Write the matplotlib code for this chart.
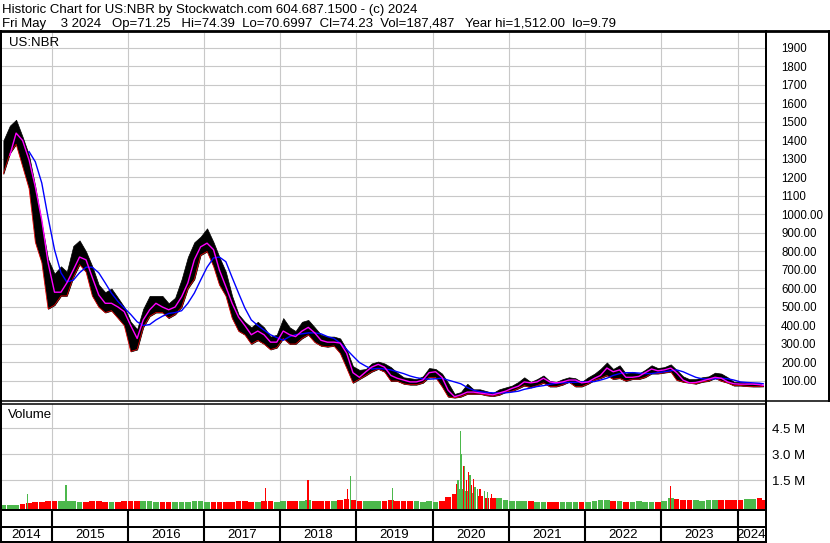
import numpy as np
import pandas as pd
import matplotlib
matplotlib.use("Agg")
import matplotlib.pyplot as plt
from matplotlib import font_manager
from matplotlib.lines import Line2D
from matplotlib.ticker import FixedLocator, FuncFormatter

plt.rcParams['font.family'] = ['Liberation Sans', 'DejaVu Sans']

W, H = 830, 543

# === DATOS (lecturas mensuales may 2014 .. may 2024) ===
month_hi = [1400, 1480, 1512, 1420, 1320, 1150, 950, 760,
            680, 720, 690, 830, 860, 800, 720, 620, 580, 600, 550, 500,
            420, 380, 490, 560, 560, 560, 520, 550, 650, 770, 850, 880,
            925, 850, 770, 690, 560, 460, 420, 390, 420, 390, 340, 350,
            440, 390, 370, 420, 430, 390, 350, 340, 340, 330, 270, 180,
            160, 165, 195, 205, 195, 175, 145, 120, 115, 110, 125, 170,
            165, 140, 90, 30, 40, 85, 55, 55, 45, 35, 55, 65,
            75, 95, 120, 95, 110, 130, 100, 95, 110, 120, 115, 95,
            120, 140, 165, 200, 165, 185, 140, 150, 140, 160, 185, 170,
            175, 190, 160, 125, 110, 110, 120, 125, 145, 140, 120, 95,
            95, 90, 90, 88, 74.39]
month_lo = [1220, 1330, 1380, 1260, 1140, 850, 740, 490,
            510, 560, 560, 660, 730, 690, 560, 500, 470, 480, 440, 400,
            260, 270, 390, 450, 470, 470, 440, 460, 500, 600, 650, 780,
            800, 720, 620, 560, 440, 370, 350, 300, 320, 300, 270, 280,
            330, 300, 300, 330, 350, 310, 290, 285, 290, 250, 170, 90,
            110, 130, 150, 165, 150, 100, 100, 85, 80, 80, 90, 120,
            120, 70, 15, 9.79, 15, 30, 30, 30, 22, 18, 25, 40,
            45, 60, 75, 65, 75, 90, 70, 70, 80, 95, 70, 70,
            85, 105, 115, 130, 110, 115, 100, 110, 110, 120, 140, 140,
            145, 150, 105, 95, 90, 85, 95, 100, 115, 100, 90, 75,
            75, 72, 70, 70, 70.70]
ma_fast = [np.nan, 1320, 1440, 1400, 1295, 1150, 970, 740,
           580, 580, 630, 700, 770, 755, 660, 565, 520, 520, 500, 475,
           400, 330, 430, 485, 520, 500, 485, 500, 555, 630, 755, 825,
           845, 810, 700, 610, 520, 445, 400, 350, 370, 350, 310, 310,
           370, 350, 340, 370, 390, 360, 320, 310, 310, 305, 250, 145,
           120, 150, 175, 190, 175, 130, 115, 105, 95, 95, 105, 145,
           150, 120, 50, 15, 25, 40, 40, 35, 30, 25, 35, 45,
           60, 72, 95, 90, 95, 115, 95, 90, 95, 105, 105, 90,
           95, 115, 130, 170, 150, 160, 120, 120, 125, 145, 165, 155,
           160, 170, 145, 105, 90, 92, 100, 110, 120, 115, 95, 85,
           83, 83, 83, 80, 76]
ma_slow = [np.nan, np.nan, np.nan, np.nan, 1340, 1285, 1170, 985,
           810, 685, 635, 645, 685, 715, 715, 685, 630, 575, 530, 495,
           460, 420, 400, 405, 430, 450, 465, 470, 480, 520, 575, 645,
           715, 765, 770, 745, 660, 575, 495, 430, 400, 375, 350, 335,
           320, 340, 350, 355, 360, 360, 355, 340, 330, 305, 270, 235,
           200, 180, 165, 168, 165, 160, 150, 140, 127, 118, 112, 110,
           112, 115, 105, 95, 85, 65, 50, 42, 38, 36, 35, 36,
           40, 45, 55, 62, 70, 75, 82, 88, 90, 92, 93, 95,
           95, 97, 105, 115, 130, 140, 145, 145, 143, 140, 140, 145,
           150, 155, 160, 150, 135, 120, 112, 110, 112, 115, 112, 105,
           95, 92, 90, 88, 85]
vol_month = [90, 100, 100, 120, 180, 250, 230, 300,
             280, 300, 330, 280, 260, 250, 280, 300, 260, 270, 250, 300,
             330, 320, 280, 280, 250, 260, 250, 240, 260, 270, 300, 280,
             250, 230, 260, 250, 270, 300, 280, 260, 240, 280, 300, 260,
             280, 300, 280, 330, 350, 300, 280, 290, 300, 380, 420, 350,
             300, 280, 300, 280, 320, 350, 300, 280, 300, 280, 270, 300,
             250, 300, 550, 700, 1000, 900, 750, 600, 500, 450, 500, 350,
             300, 320, 330, 280, 250, 260, 240, 250, 270, 250, 260, 240,
             250, 280, 380, 350, 300, 280, 250, 260, 280, 270, 260, 250,
             280, 450, 400, 350, 380, 340, 330, 350, 380, 350, 360, 340,
             380, 420, 400, 450, 380]   # miles

spike_dates = ["2014-09-07", "2015-03-11", "2017-10-23", "2018-05-14", "2018-11-18",
               "2018-12-05", "2019-06-21", "2020-04-25", "2020-05-01", "2020-05-14",
               "2020-05-19", "2020-05-27", "2020-06-02", "2020-06-10", "2020-06-20",
               "2020-06-28", "2020-07-06", "2020-07-14", "2020-07-22", "2020-08-02",
               "2020-08-15", "2020-09-05", "2020-09-20", "2020-10-10", "2023-02-13"]
spike_vol = [690, 1200, 1040, 1500, 1000,
             1730, 1040, 1270, 1500, 4330,
             3000, 2300, 2300, 1500, 1960,
             1800, 1200, 1600, 1100, 1000,
             1000, 900, 800, 700, 1150]   # miles
spike_up = [True, True, False, False, False,
            True, True, False, True, True,
            True, False, True, False, False,
            True, False, False, True, True,
            False, True, True, False, False]

title1 = "Historic Chart for US:NBR by Stockwatch.com 604.687.1500 - (c) 2024"
title2 = ("Fri May    3 2024   Op=71.25   Hi=74.39  Lo=70.6997  Cl=74.23  "
          "Vol=187,487   Year hi=1,512.00  lo=9.79")
years = list(range(2014, 2025))

# === FECHAS ===
dates = list(pd.date_range("2014-05-01", periods=len(month_hi), freq="MS") + pd.Timedelta(days=14))
dates[-1] = pd.Timestamp("2024-05-03")
dates = pd.DatetimeIndex(dates)
x0, x1 = pd.Timestamp("2014-05-06"), pd.Timestamp("2024-05-14")
year_starts = [pd.Timestamp(f"{y}-01-01") for y in years[1:]]

GRID = "#c8c8c8"
GREEN = "#4cb84c"
RED = "#ff0000"

# fuente estrecha para las etiquetas de precio (si existe)
installed = {f.name for f in font_manager.fontManager.ttflist}
if "Liberation Sans Narrow" in installed:
    price_font = dict(family="Liberation Sans Narrow", size=9.5)
else:
    price_font = dict(family="Liberation Sans", size=8.3)


def rect(l, t, r, b):
    return [l / W, 1 - b / H, (r - l) / W, (b - t) / H]


fig = plt.figure(figsize=(W / 100, H / 100), dpi=100)

# === PANEL DE PRECIO ===
ax = fig.add_axes(rect(1.5, 33, 765.5, 399.5))
ax.set_xlim(x0, x1)
ax.set_ylim(0, 1981)
ax.fill_between(dates, month_lo, month_hi, color="black", lw=0.5, zorder=3)
ax.plot(dates, month_lo, color=RED, lw=0.5, zorder=3.5)
ax.plot(dates, ma_slow, color="#0000ff", lw=1.0, zorder=4)
ax.plot(dates, ma_fast, color="#ff00ff", lw=1.0, zorder=5)
ax.yaxis.set_major_locator(FixedLocator(range(100, 2000, 100)))
ax.yaxis.set_major_formatter(FuncFormatter(lambda v, p: f"{v:.0f}" if v > 1050 else f"{v:.2f}"))
ax.yaxis.tick_right()
ax.set_xticks(year_starts)
ax.tick_params(axis="both", length=0, labelbottom=False, pad=11.2)
for lab in ax.get_yticklabels():
    lab.set_fontfamily(price_font["family"])
    lab.set_fontsize(price_font["size"])
ax.grid(True, color=GRID, lw=0.8, zorder=0)
ax.set_axisbelow(True)
for s in ax.spines.values():
    s.set_visible(False)

# === PANEL DE VOLUMEN ===
vb = -0.185e6
av = fig.add_axes(rect(1.5, 403.5, 765.5, 509.5))
av.set_xlim(x0, x1)
av.set_ylim(vb, 5.93e6)
vol = np.array(vol_month) * 1000.0
fast = np.array(ma_fast)
up = np.concatenate([[True], np.nan_to_num(np.diff(fast), nan=1.0) >= 0])
av.bar(dates, vol - vb, bottom=vb, width=27, color=[GREEN if u else RED for u in up], lw=0, zorder=3)
sv = np.array(spike_vol) * 1000.0
av.bar(pd.to_datetime(spike_dates), sv - vb, bottom=vb, width=6,
       color=[GREEN if u else RED for u in spike_up], lw=0, zorder=4)
av.yaxis.set_major_locator(FixedLocator([1.5e6, 3.0e6, 4.5e6]))
av.yaxis.set_major_formatter(FuncFormatter(lambda v, p: f"{v / 1e6:.1f} M"))
av.yaxis.tick_right()
av.set_xticks(year_starts)
av.tick_params(axis="both", length=0, labelsize=9.5, labelbottom=False, pad=4.7)
av.grid(True, color=GRID, lw=0.8, zorder=0)
av.set_axisbelow(True)
for s in av.spines.values():
    s.set_visible(False)

# === FRANJAS INFERIORES (marcas y años) ===
for top, bot in [(510, 526.5), (526.5, 541.5)]:
    a = fig.add_axes(rect(1.5, top, 765.5, bot))
    a.set_xlim(x0, x1)
    a.set_ylim(0, 1)
    a.axis("off")
    for d in year_starts:
        a.axvline(d, color="black", lw=1.5)
    if top > 520:
        edges = [x0] + year_starts + [x1]
        for y, l, r in zip(years, edges[:-1], edges[1:]):
            a.text(l + (r - l) / 2, 0.45, str(y), ha="center", va="center", fontsize=9.5)

# === TEXTOS ===
fig.text(2 / W, 1 - 12.5 / H, title1, fontsize=9.5, va="baseline")
fig.text(2 / W, 1 - 26.7 / H, title2, fontsize=9.5, va="baseline")
fig.text(9 / W, 1 - 46 / H, "US:NBR", fontsize=9.5, va="baseline")
fig.text(8 / W, 1 - 418 / H, "Volume", fontsize=9.5, va="baseline")


# === BORDES ===
def seg(xa, ya, xb, yb, lw=1.44):
    fig.add_artist(Line2D([xa / W, xb / W], [1 - ya / H, 1 - yb / H],
                          transform=fig.transFigure, color="black", lw=lw))


seg(0, 31, 830, 31, 2.0)
seg(1, 31, 1, 542)
seg(766, 31, 766, 542)
seg(828.5, 31, 828.5, 401)
seg(0, 401, 830, 401, 1.1)
seg(0, 403.5, 766, 403.5, 1.1)
seg(0, 510, 766, 510)
seg(0, 526.5, 766, 526.5)
seg(0, 541.8, 766, 541.8)

fig.savefig("out.png", dpi=100)
